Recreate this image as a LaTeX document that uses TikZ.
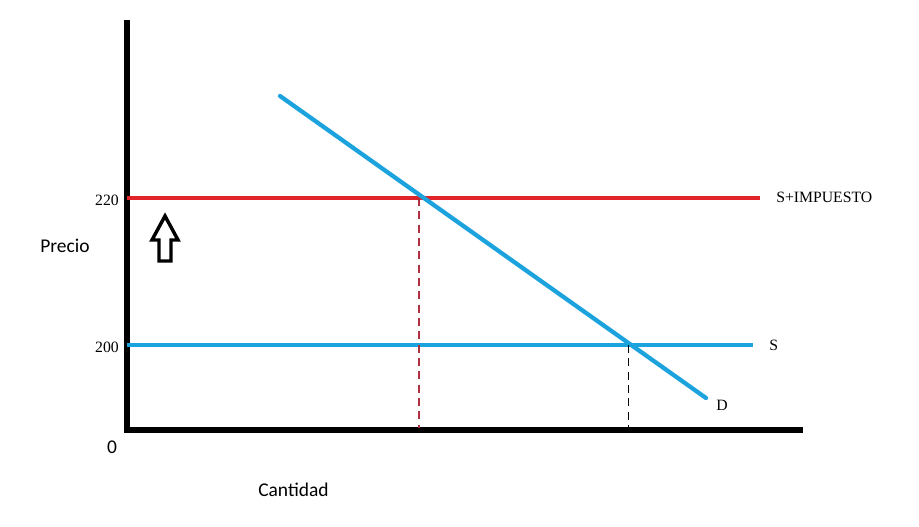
\documentclass[tikz,border=0pt]{standalone}
\usepackage{fontspec}
\setmainfont{Liberation Serif}
\newfontfamily\labelfont{Carlito}
\begin{document}
\begin{tikzpicture}[x=0.75pt,y=-0.75pt,
  axis/.style={line width=3.8pt,black},
  redline/.style={line width=3.2pt,draw=cred},
  blueline/.style={line width=3.2pt,draw=cblue},
  guide/.style={line width=0.8pt,dash pattern=on 6pt off 4pt},
  serif/.style={font=\fontsize{11.8}{13}\selectfont,inner sep=0pt},
  sans/.style={font=\labelfont\fontsize{14.6}{16}\selectfont,inner sep=0pt}]
\definecolor{cred}{HTML}{E1242A}
\definecolor{cblue}{HTML}{1CA3DE}
\definecolor{cdash}{HTML}{B03040}
\useasboundingbox[fill=white] (0,0) rectangle (919,527);
% axes
\coordinate (ytop) at (127,20);
\coordinate (orig) at (127,430);
\coordinate (xend) at (803,430);
\draw[axis] (ytop) -- (orig) -- (xend);
% supply lines
\coordinate (r0) at (127,198);
\coordinate (r1) at (760,198);
\coordinate (b0) at (127,345);
\coordinate (b1) at (753,345);
\draw[redline] (r0) -- (r1);
\draw[blueline] (b0) -- (b1);
% demand
\coordinate (d0) at (280,96);
\coordinate (d1) at (706,398);
\draw[blueline,line cap=round] (d0) -- (d1);
% guides
\coordinate (e1) at (419,198);
\coordinate (e1b) at (419,428);
\coordinate (e2) at (628,345);
\coordinate (e2b) at (628,428);
\draw[guide,draw=cdash] (e1) -- (e1b);
\draw[guide,draw=black,line width=0.6pt] (e2) -- (e2b);
% arrow
\draw[line width=2.6pt,line join=miter] (165,216) -- (178,240) -- (171,240) -- (171,261) -- (159,261) -- (159,240) -- (152,240) -- cycle;
% labels
\node[serif,anchor=east] (l220) at (119,200) {220};
\node[serif,anchor=east] (l200) at (119,347) {200};
\node[serif,anchor=west] (limp) at (776,197) {S+IMPUESTO};
\node[serif,anchor=west] (ls) at (769,345) {S};
\node[serif,anchor=west] (ld) at (716,405) {D};
\node[sans,anchor=west] (lp) at (40,246) {Precio};
\node[sans,anchor=west] (lc) at (258,490) {Cantidad};
\node[sans] (l0) at (112,447) {0};
\end{tikzpicture}
\end{document}
